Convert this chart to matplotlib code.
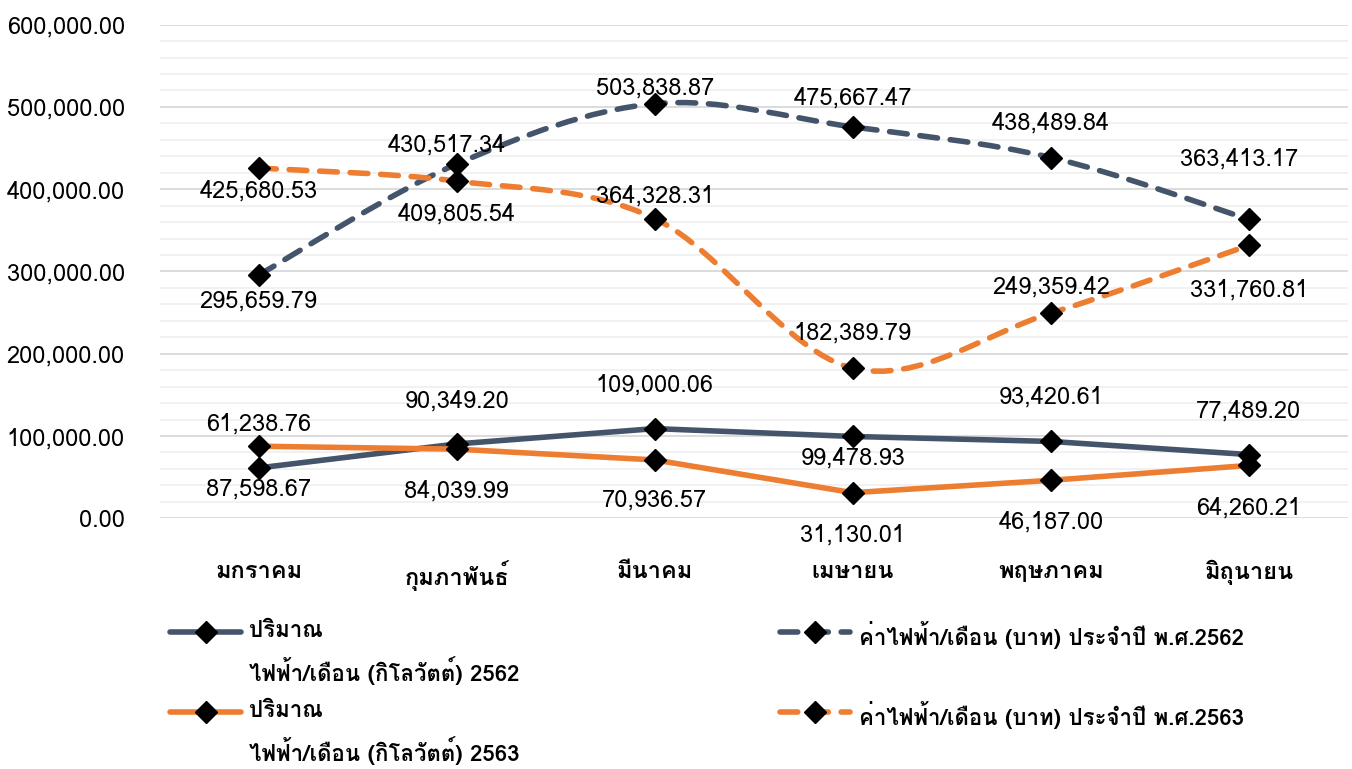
import matplotlib
matplotlib.use("Agg")
import matplotlib.pyplot as plt
from matplotlib import font_manager as fm
from matplotlib.ft2font import FT2Font
from matplotlib.path import Path
from matplotlib.patches import PathPatch
from matplotlib.lines import Line2D
import numpy as np

# data
months = ["มกราคม", "กุมภาพันธ์", "มีนาคม", "เมษายน", "พฤษภาคม", "มิถุนายน"]
kwh_2562 = [61238.76, 90349.20, 109000.06, 99478.93, 93420.61, 77489.20]
kwh_2563 = [87598.67, 84039.99, 70936.57, 31130.01, 46187.00, 64260.21]
baht_2562 = [295659.79, 430517.34, 503838.87, 475667.47, 438489.84, 363413.17]
baht_2563 = [425680.53, 409805.54, 364328.31, 182389.79, 249359.42, 331760.81]

lbl_kwh_2562 = "ปริมาณ\nไฟฟ้า/เดือน (กิโลวัตต์) 2562"
lbl_kwh_2563 = "ปริมาณ\nไฟฟ้า/เดือน (กิโลวัตต์) 2563"
lbl_baht_2562 = "ค่าไฟฟ้า/เดือน (บาท) ประจำปี พ.ศ.2562"
lbl_baht_2563 = "ค่าไฟฟ้า/เดือน (บาท) ประจำปี พ.ศ.2563"

DARK = "#44546A"
ORANGE = "#ED7D31"

# find a font with Thai glyphs
thai = []
for f in fm.fontManager.ttflist:
    try:
        if 0x0E01 in FT2Font(f.fname).get_charmap() and f.name not in thai:
            thai.append(f.name)
    except Exception:
        pass
plt.rcParams["font.family"] = thai[:1] + ["DejaVu Sans"]

fig = plt.figure(figsize=(13.52, 7.69), dpi=100)
ax = fig.add_axes([0.118, 0.326, 0.879, 0.642])

x = np.arange(len(months))


def smooth_path(xs, ys):
    # Catmull-Rom style bezier through the points (like Excel's smoothed line)
    pts = np.column_stack([xs, ys]).astype(float)
    verts = [pts[0]]
    codes = [Path.MOVETO]
    n = len(pts)
    for i in range(n - 1):
        p0 = pts[i - 1] if i > 0 else pts[i]
        p1 = pts[i]
        p2 = pts[i + 1]
        p3 = pts[i + 2] if i + 2 < n else pts[i + 1]
        c1 = p1 + (p2 - p0) / 6
        c2 = p2 - (p3 - p1) / 6
        verts += [c1, c2, p2]
        codes += [Path.CURVE4] * 3
    return Path(verts, codes)


lw = 4
dash = (0, (3.2, 2.3))
for ys, col in [(baht_2562, DARK), (baht_2563, ORANGE)]:
    patch = PathPatch(smooth_path(x, ys), facecolor="none", edgecolor=col,
                      lw=lw, linestyle=dash, capstyle="round", zorder=3)
    ax.add_patch(patch)
    ax.plot(x, ys, linestyle="none", marker="D", color="black", ms=11, zorder=5)

for ys, col in [(kwh_2562, DARK), (kwh_2563, ORANGE)]:
    ax.plot(x, ys, color=col, lw=lw, marker="D", mfc="black", mec="black",
            ms=11, zorder=4, solid_capstyle="round")

# label offsets in pixels (dx, dy)
off_kwh_2562 = [(0, 44), (0, 43), (0, 44), (0, -22), (0, 44), (0, 44)]
off_kwh_2563 = [(0, -43), (0, -42), (0, -40), (0, -42), (0, -42), (0, -43)]
off_baht_2562 = [(0, -26), (-10, 19), (0, 16), (0, 29), (0, 34), (-10, 60)]
off_baht_2563 = [(0, -23), (0, -33), (0, 23), (0, 35), (0, 26), (0, -45)]

fs = 17
for ys, offs in [(kwh_2562, off_kwh_2562), (kwh_2563, off_kwh_2563),
                 (baht_2562, off_baht_2562), (baht_2563, off_baht_2563)]:
    for xi, yi, (dx, dy) in zip(x, ys, offs):
        ax.annotate(f"{yi:,.2f}", (xi, yi), xytext=(dx, dy),
                    textcoords="offset pixels", ha="center", va="center",
                    fontsize=fs, color="black", zorder=6)

ax.set_xlim(-0.5, len(months) - 0.5)
ax.set_ylim(0, 600000)
ax.set_yticks(np.arange(0, 600001, 100000))
ax.set_yticks(np.arange(0, 600001, 20000), minor=True)
ax.yaxis.set_major_formatter(matplotlib.ticker.FuncFormatter(lambda v, p: f"{v:,.2f}"))
ax.grid(axis="y", which="major", color="#D9D9D9", lw=1.3, zorder=0)
ax.grid(axis="y", which="minor", color="#F0F0F0", lw=1.3, zorder=0)
ax.set_axisbelow(True)
ax.set_xticks(x)
ax.set_xticklabels(months, fontsize=17, fontweight="bold")
ax.tick_params(axis="y", labelsize=fs, length=0, pad=25)
ax.tick_params(axis="x", length=0, pad=30)
ax.tick_params(axis="y", which="minor", length=0)
for s in ax.spines.values():
    s.set_visible(False)

# legend drawn manually, two columns
entries = [
    (0.126, 0.178, DARK, "-", lbl_kwh_2562),
    (0.126, 0.074, ORANGE, "-", lbl_kwh_2563),
    (0.577, 0.178, DARK, "--", lbl_baht_2562),
    (0.577, 0.074, ORANGE, "--", lbl_baht_2563),
]
for lx, ly, col, ls, txt in entries:
    hx = [lx, lx + 0.026, lx + 0.052]
    fig.add_artist(Line2D(hx, [ly] * 3, transform=fig.transFigure, color=col,
                          lw=lw, linestyle="-" if ls == "-" else dash,
                          solid_capstyle="round", dash_capstyle="round"))
    fig.add_artist(Line2D([hx[1]], [ly], transform=fig.transFigure, marker="D",
                          color="black", ms=11, linestyle="none"))
    fig.text(lx + 0.058, ly + 0.014, txt, fontsize=16, fontweight="bold",
             va="top", ha="left", linespacing=1.6, transform=fig.transFigure)

fig.savefig("out.png", dpi=100, facecolor="white")
